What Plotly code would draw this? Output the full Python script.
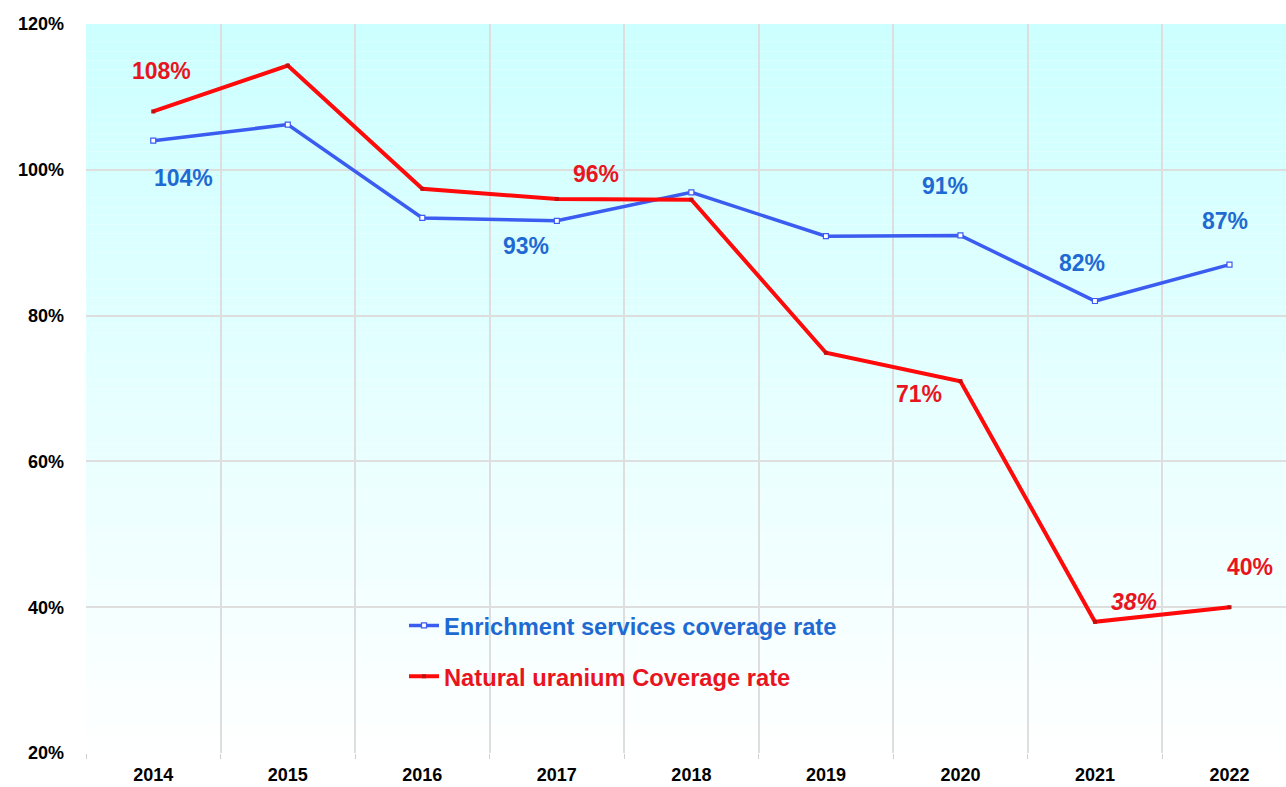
import plotly.graph_objects as go

# Coverage rates by year (%)
years = ["2014", "2015", "2016", "2017", "2018", "2019", "2020", "2021", "2022"]
enrichment = [104, 106.2, 93.4, 93, 96.9, 90.9, 91, 82, 87]
uranium = [108, 114.3, 97.4, 96, 95.9, 74.9, 71, 38, 40]
y_ticks = [20, 40, 60, 80, 100, 120]

# Which points get a value label: (index, x offset px, y offset px, italic)
enrichment_labels = [(0, 30, -37, False), (3, -31, -25, False), (6, -15, 49, False),
                     (7, -13, 38, False), (8, -5, 44, False)]
uranium_labels = [(0, 8, 40, False), (3, 39, 25, False), (6, -41, -13, False),
                  (7, 39, 20, True), (8, 20, 40, False)]

BLUE_LINE = "#3b5cf0"
RED_LINE = "#ff0a0a"
BLUE_TEXT = "#1f6ad2"
RED_TEXT = "#e8141e"
FONT = "Liberation Sans, Arial, sans-serif"

fig = go.Figure()

fig.add_trace(go.Scatter(
    x=years, y=enrichment, mode="lines+markers",
    name=f"<span style='color:{BLUE_TEXT}'><b>Enrichment services coverage rate</b></span>",
    line=dict(color=BLUE_LINE, width=3.5),
    marker=dict(symbol="square", size=5, color="white", line=dict(color=BLUE_LINE, width=1.2)),
    legendgroup="a",
))
fig.add_trace(go.Scatter(
    x=years, y=uranium, mode="lines+markers",
    name=f"<span style='color:{RED_TEXT}'><b>Natural uranium Coverage rate</b></span>",
    line=dict(color=RED_LINE, width=4),
    marker=dict(symbol="square", size=4, color="#c01010"),
    legendgroup="b",
))

annotations = []
for values, labels, color in ((enrichment, enrichment_labels, BLUE_TEXT),
                              (uranium, uranium_labels, RED_TEXT)):
    for i, dx, dy, italic in labels:
        txt = f"{values[i]:.0f}%"
        if italic:
            txt = f"<i>{txt}</i>"
        # category axis: position by category index
        annotations.append(dict(
            x=i, y=values[i], xref="x", yref="y", text=f"<b>{txt}</b>",
            showarrow=False, xshift=dx, yshift=dy,
            font=dict(family=FONT, size=23, color=color),
        ))

# Vertical cyan-to-white background gradient inside the plot area
shapes = []
n = 80
top = (204, 255, 255)
for k in range(n):
    t = k / n
    r = int(round(top[0] + (255 - top[0]) * t))
    g = int(round(top[1] + (255 - top[1]) * t))
    b = int(round(top[2] + (255 - top[2]) * t))
    shapes.append(dict(
        type="rect", xref="paper", yref="paper", layer="below",
        x0=0, x1=1, y0=1 - (k + 1) / n, y1=1 - k / n,
        fillcolor=f"rgb({r},{g},{b})", line=dict(width=0),
    ))

fig.update_layout(
    width=1286, height=787,
    margin=dict(l=86, r=0, t=24, b=34),
    paper_bgcolor="white", plot_bgcolor="rgba(0,0,0,0)",
    font=dict(family=FONT, color="black"),
    shapes=shapes,
    annotations=annotations,
    showlegend=True,
    legend=dict(
        x=0.265, y=0.205, xanchor="left", yanchor="top",
        bgcolor="rgba(0,0,0,0)", font=dict(family=FONT, size=23.7),
        traceorder="grouped", tracegroupgap=17,
        itemwidth=30,
    ),
    xaxis=dict(
        type="category", range=[-0.5, 8.42], tickson="boundaries",
        showgrid=True, gridcolor="#dedede", gridwidth=1.5,
        ticks="outside", ticklen=5, tickcolor="#cfcfcf",
        tickfont=dict(family=FONT, size=18, color="black", weight="bold"),
        ticklabelstandoff=9,
        showline=False, zeroline=False,
    ),
    yaxis=dict(
        range=[20, 120], tickvals=y_ticks, ticktext=[f"{v}%" for v in y_ticks],
        showgrid=True, gridcolor="#dedede", gridwidth=1.5,
        tickfont=dict(family=FONT, size=18, color="black", weight="bold"),
        ticklabelstandoff=21,
        showline=False, zeroline=False,
    ),
)

fig.write_html("out.html")
